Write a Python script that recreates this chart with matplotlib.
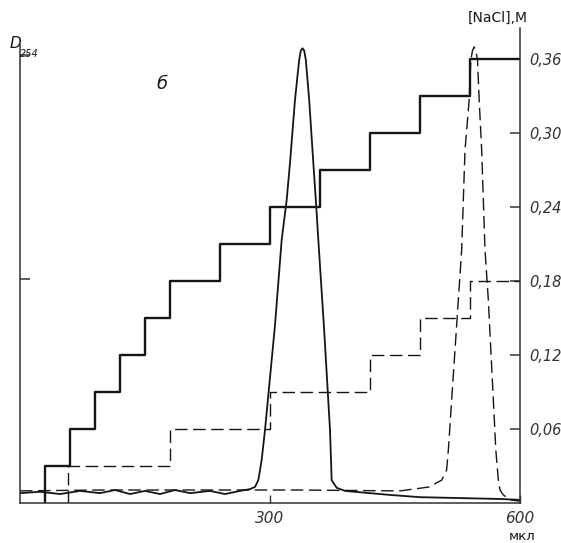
import matplotlib
matplotlib.use("Agg")
import matplotlib.pyplot as plt

# elution volume, mkl / absorbance D254 (solid run)
peak1_x = [0, 24, 48, 72, 96, 114, 132, 150, 168, 186, 204, 228, 246, 264, 276,
           282, 286, 290, 294, 306, 314, 320, 324, 330, 335, 337, 339, 341, 343, 347,
           352, 355, 358, 365, 372, 374, 380, 390, 420, 444, 480, 528, 576, 600]
peak1_y = [0.022, 0.025, 0.020, 0.027, 0.022, 0.029, 0.020, 0.027, 0.020, 0.029,
           0.022, 0.027, 0.020, 0.027, 0.031, 0.036, 0.051, 0.096, 0.163, 0.397,
           0.587, 0.676, 0.759, 0.900, 0.989, 1.010, 1.015, 1.010, 0.989, 0.900,
           0.759, 0.676, 0.587, 0.386, 0.163, 0.051, 0.034, 0.027, 0.022, 0.018,
           0.013, 0.011, 0.009, 0.007]

# dashed run
peak2_x = [0, 96, 216, 336, 456, 472, 492, 500, 506, 512, 514, 518, 526, 530, 534,
           539, 541, 543, 545, 547, 549, 551, 554, 558, 562, 568, 571, 574, 576, 580,
           588, 600]
peak2_y = [0.027, 0.029, 0.029, 0.029, 0.027, 0.031, 0.036, 0.045, 0.051, 0.074,
           0.118, 0.230, 0.453, 0.565, 0.788, 0.900, 0.989, 1.010, 1.018, 1.010,
           0.989, 0.900, 0.788, 0.565, 0.453, 0.230, 0.118, 0.051, 0.029, 0.018,
           0.007, 0.004]

# NaCl step gradients
steps1_x = [30, 60, 90, 120, 150, 180, 240, 300, 360, 420, 480, 540]
steps1_c = [0.03, 0.06, 0.09, 0.12, 0.15, 0.18, 0.21, 0.24, 0.27, 0.30, 0.33, 0.36]
steps2_x = [58, 180, 300, 420, 480, 540]
steps2_c = [0.03, 0.06, 0.09, 0.12, 0.15, 0.18]

nacl_ticks = [0.06, 0.12, 0.18, 0.24, 0.30, 0.36]
nacl_labels = ['0,06', '0,12', '0,18', '0,24', '0,30', '0,36']
x_ticks = [300, 600]
x_labels = ['300', '600']
d_ticks = [0.5, 1.0]

ink = '#151515'

fig = plt.figure(figsize=(5.61, 5.43), dpi=100)
W, H = 561, 543
ax = fig.add_axes([20 / W, 40 / H, 500 / W, (503 - 28) / H])
ax2 = ax.twinx()

ax.set_xlim(0, 600)
ax.set_ylim(0, (503 - 28) / 448)
ax2.set_ylim(0, (503 - 28) / 1233.3)

# absorbance peaks
ax.plot(peak1_x, peak1_y, color=ink, lw=1.3)
ax.plot(peak2_x, peak2_y, color=ink, lw=1.0, dashes=(9, 4))

# gradients
ax2.plot(steps1_x + [600], [0] + steps1_c, drawstyle='steps-pre', color=ink, lw=1.7)
ax2.plot(steps2_x + [600], [0] + steps2_c, drawstyle='steps-pre', color=ink, lw=1.0,
         dashes=(9, 4))

for a in (ax, ax2):
    a.spines['top'].set_visible(False)
    for s in a.spines.values():
        s.set_color('#333333')
        s.set_linewidth(1.1)

ax.spines['right'].set_visible(False)
ax.spines['left'].set_bounds(0, (503 - 45) / 448)
ax2.spines['left'].set_visible(False)
ax2.spines['bottom'].set_visible(False)

ax.set_xticks(x_ticks)
ax.set_xticklabels(x_labels, fontsize=11, style='italic', color='#333333')
ax.tick_params(axis='x', direction='in', length=6, width=1, pad=6, color='#333333')

ax.set_yticks(d_ticks)
ax.tick_params(axis='y', direction='in', length=7, width=1.1, labelleft=False,
               color='#333333')

ax2.set_yticks(nacl_ticks)
ax2.set_yticklabels(nacl_labels, fontsize=10.5, style='italic', color='#333333')
ax2.tick_params(axis='y', direction='in', length=7, width=1.1, pad=7, color='#333333')

fig.text(10 / W, 1 - 44 / H, 'D', fontsize=11, style='italic', ha='left', va='center',
         color=ink)
fig.text(20 / W, 1 - 54 / H, '254', fontsize=7, style='italic', ha='left',
         va='center', color=ink)
fig.text(498 / W, 1 - 18 / H, '[NaCl],M', fontsize=10, ha='center', va='center',
         color=ink)
fig.text(522 / W, 1 - 536 / H, 'мкл', fontsize=9.5, ha='center', va='center',
         color=ink)
fig.text(162 / W, 1 - 84 / H, 'б', fontsize=13, style='italic', ha='center',
         va='center', color=ink)

fig.savefig('out.png', dpi=100)
